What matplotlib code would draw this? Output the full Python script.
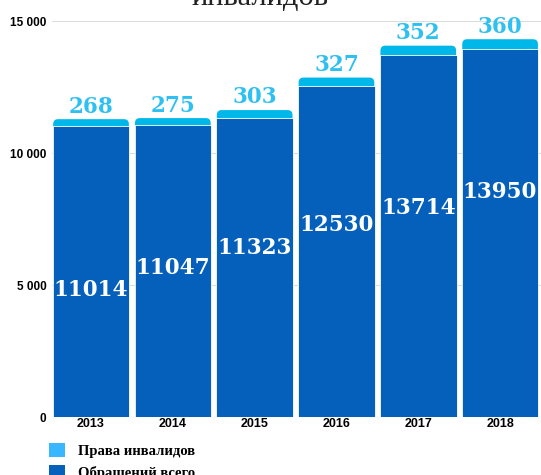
import matplotlib.pyplot as plt
from matplotlib.patches import FancyBboxPatch, Patch
import numpy as np

# данные с картинки
years = ['2013', '2014', '2015', '2016', '2017', '2018']
total_requests = [11014, 11047, 11323, 12530, 13714, 13950]   # Обращений всего
disabled_rights = [268, 275, 303, 327, 352, 360]               # Права инвалидов

# высоты подписей внутри столбцов (как на исходнике)
inner_label_y = [4800, 5650, 6400, 7270, 7920, 8520]

dark = '#0560BB'
light = '#00B7EA'
label_light = '#2EC0F0'

fig = plt.figure(figsize=(5.41, 4.75), dpi=100)
ax = fig.add_axes([52 / 541, 1 - 417 / 475, 489 / 541, 396 / 475])

x = np.arange(len(years))
w = 0.935
b1 = ax.bar(x, total_requests, width=w, color=dark, edgecolor='white', linewidth=0.6, zorder=3)
b2 = ax.bar(x, disabled_rights, bottom=total_requests, width=w, color=light,
            edgecolor='white', linewidth=0.6, zorder=3)

# скруглённый верх: светлый столбец на всю высоту позади тёмного
aspect = (489 / 5.977) / (396 / 15000)
for p in b2.patches:
    p.set_visible(False)
    top = p.get_y() + p.get_height()
    box = FancyBboxPatch((p.get_x() + 0.005, 0), p.get_width() - 0.01, top,
                         boxstyle='round,pad=0,rounding_size=0.06', mutation_aspect=aspect,
                         facecolor=light, edgecolor='none', zorder=2.5)
    ax.add_patch(box)

for i in range(len(years)):
    ax.text(x[i], total_requests[i] + disabled_rights[i] + 60, str(disabled_rights[i]),
            ha='center', va='bottom', color=label_light, fontsize=15.5, fontweight='bold',
            family='DejaVu Serif', zorder=4, clip_on=False)
    ax.text(x[i], inner_label_y[i], str(total_requests[i]), ha='center', va='center',
            color='white', fontsize=15.5, fontweight='bold', family='DejaVu Serif', zorder=4)

ax.set_xlim(-0.477, 5.5)
ax.set_ylim(0, 15000)
ax.set_yticks([0, 5000, 10000, 15000])
ax.set_yticklabels(['0', '5 000', '10 000', '15 000'])
ax.set_xticks(x)
ax.set_xticklabels(years)
for lbl in ax.get_yticklabels():
    lbl.set_fontweight('bold')
    lbl.set_fontsize(8.5)
    lbl.set_family('Liberation Sans')
for lbl in ax.get_xticklabels():
    lbl.set_fontweight('bold')
    lbl.set_fontsize(9)
    lbl.set_family('Liberation Sans')
ax.tick_params(length=0, pad=4)
ax.tick_params(axis='x', pad=1)
ax.grid(axis='y', color='#dddddd', linewidth=0.8, zorder=0)
for s in ax.spines.values():
    s.set_visible(False)

handles = [Patch(facecolor='#38B6FF', label='Права инвалидов'),
           Patch(facecolor=dark, label='Обращений всего')]
leg = fig.legend(handles=handles, loc='upper left', bbox_to_anchor=(0.066, 1 - 430 / 475),
                 frameon=False, handlelength=1.1, handleheight=1.1, handletextpad=0.9,
                 labelspacing=0.5, prop={'family': 'Liberation Serif', 'weight': 'bold', 'size': 10.5})

# заголовок, обрезанный сверху
fig.text(0.48, 1 - 5 / 475, 'Количество обращений\nпо вопросам защиты прав\nинвалидов', ha='center',
         va='baseline', fontsize=22, family='Liberation Serif', color='#222222')

fig.savefig('out.png', dpi=100)
